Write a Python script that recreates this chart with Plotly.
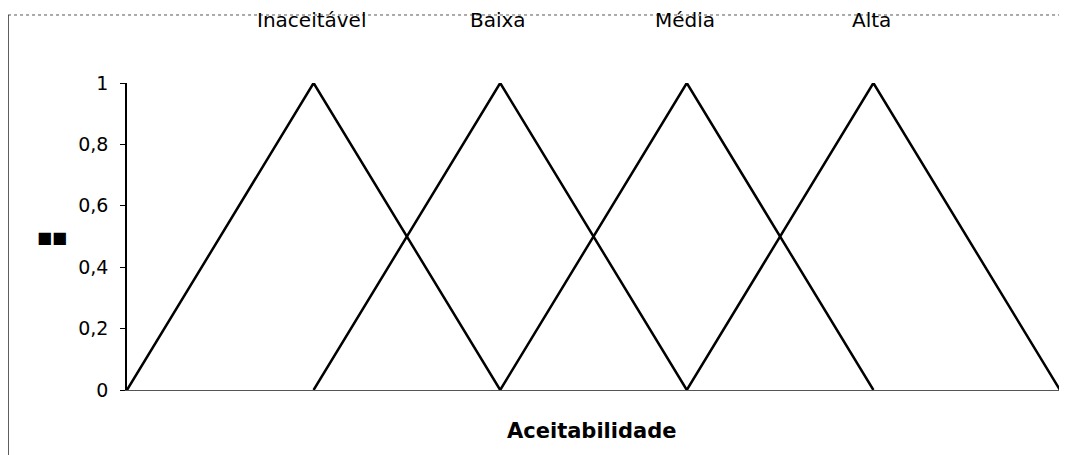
import plotly.graph_objects as go

categories = ["Inaceitável", "Baixa", "Média", "Alta"]
x_points = [[0, 1, 2], [1, 2, 3], [2, 3, 4], [3, 4, 5]]
y_points = [[0, 1, 0], [0, 1, 0], [0, 1, 0], [0, 1, 0]]
y_ticks = [0, 0.2, 0.4, 0.6, 0.8, 1]
y_tick_labels = ["0", "0,2", "0,4", "0,6", "0,8", "1"]

FONT = "DejaVu Sans, Arial"

fig = go.Figure()
for name, xs, ys in zip(categories, x_points, y_points):
    fig.add_trace(go.Scatter(x=xs, y=ys, mode="lines", name=name,
                             line=dict(color="black", width=2.5), showlegend=False,
                             cliponaxis=False))
    fig.add_annotation(x=xs[1], xref="x", y=1.205, yref="paper", text=name, showarrow=False,
                       font=dict(family=FONT, size=20, color="black"),
                       xanchor="center", yanchor="middle", xshift=-2)

fig.update_layout(
    width=1059, height=447,
    margin=dict(l=119, r=7, t=75, b=65),
    paper_bgcolor="white", plot_bgcolor="white",
    font=dict(family=FONT, size=19, color="black"),
    xaxis=dict(range=[0, 5], showgrid=False, zeroline=False, showticklabels=False,
               showline=True, linecolor="#555", linewidth=1, ticks=""),
    yaxis=dict(range=[0, 1], showgrid=False, zeroline=False, tickvals=y_ticks,
               ticktext=y_tick_labels, showline=True, linecolor="black", linewidth=1.5,
               ticks="outside", ticklen=5, tickcolor="black",
               tickfont=dict(family=FONT, size=19), ticklabelstandoff=8),
)

fig.add_annotation(xref="paper", yref="paper", x=0.498, y=-0.1336, text="<b>Aceitabilidade</b>",
                   showarrow=False, yanchor="middle", xanchor="center",
                   font=dict(family=FONT, size=21, color="black"))
fig.add_annotation(xref="paper", yref="paper", x=-0.0985, y=0.498, text="■■",
                   showarrow=False, font=dict(family=FONT, size=16, color="black"))

# outer frame (top and left edges)
fig.add_shape(type="line", xref="paper", yref="paper", x0=-0.1275, x1=1.0075, y0=1.2215, y1=1.2215,
              line=dict(color="#555", width=1, dash="dot"))
fig.add_shape(type="line", xref="paper", yref="paper", x0=-0.1275, x1=-0.1275, y0=1.2215, y1=-0.212,
              line=dict(color="#333", width=1.5))

fig.write_html("out.html")
